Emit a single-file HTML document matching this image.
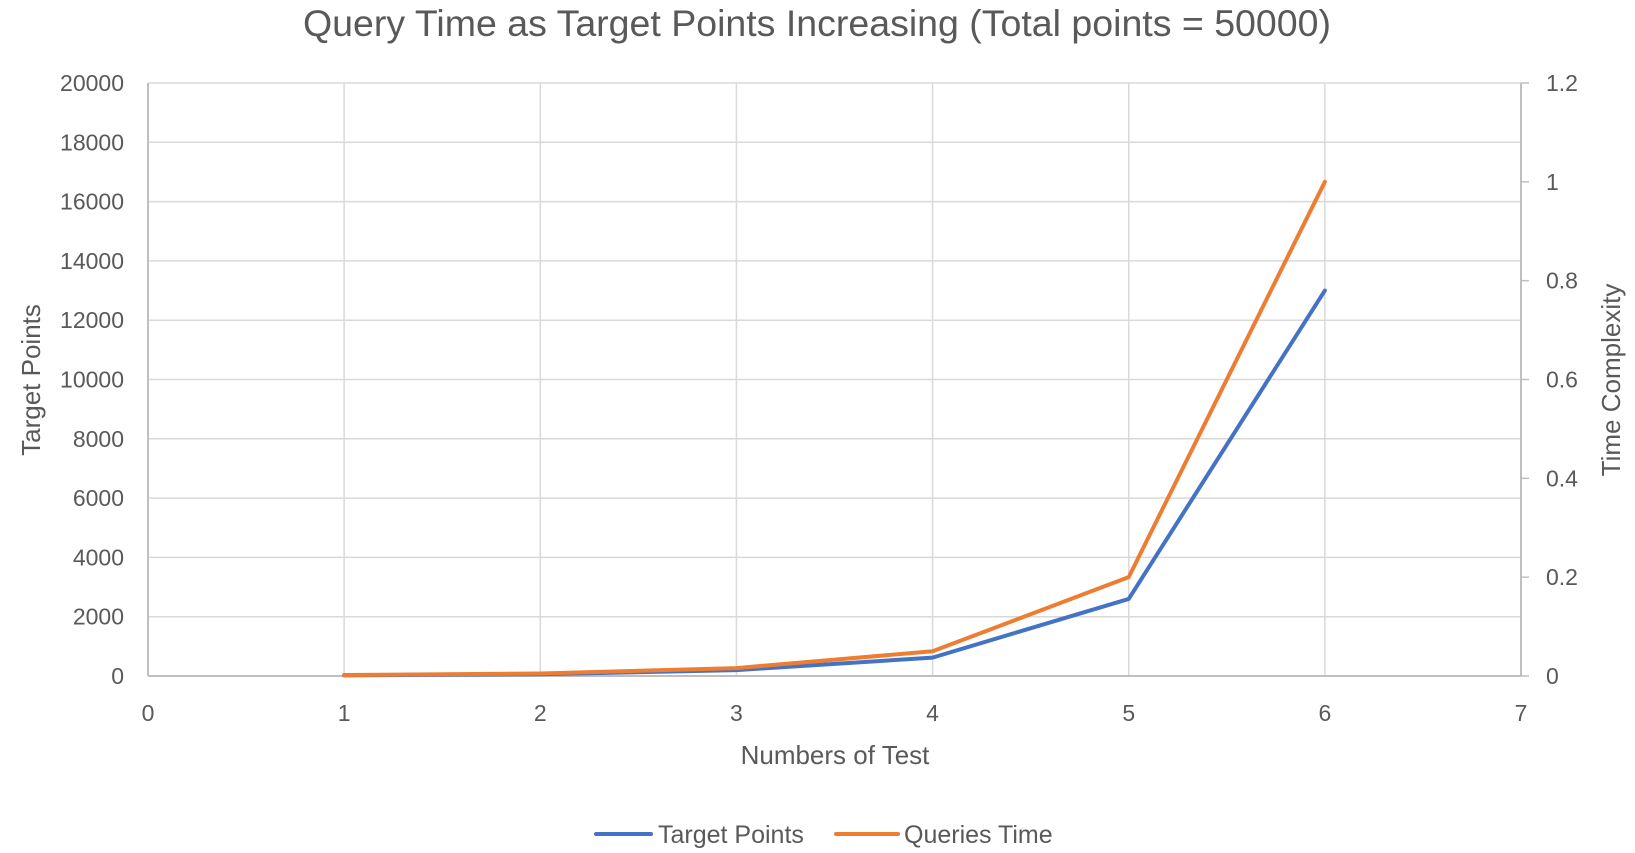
<!DOCTYPE html>
<html><head><meta charset="utf-8"><style>
body{margin:0;background:#fff;}
svg{display:block;font-family:"Liberation Sans",sans-serif;}
</style></head><body>
<svg id="chart" width="1635" height="853">
<text x="817" y="36" text-anchor="middle" font-size="37.5" fill="#595959">Query Time as Target Points Increasing (Total points = 50000)</text>
<g id="grid"></g><g id="axes"></g><g id="series"></g>
<text x="835" y="764" text-anchor="middle" font-size="26" fill="#595959">Numbers of Test</text>
<text transform="translate(40,380) rotate(-90)" text-anchor="middle" font-size="26" fill="#595959">Target Points</text>
<text transform="translate(1620,380) rotate(-90)" text-anchor="middle" font-size="26" fill="#595959">Time Complexity</text>
<g>
<g><line x1="596" y1="834" x2="651" y2="834" stroke="#4472C4" stroke-width="4" stroke-linecap="round"/><text x="658" y="843" font-size="25" fill="#595959">Target Points</text></g>
<g><line x1="836" y1="834" x2="898" y2="834" stroke="#ED7D31" stroke-width="4" stroke-linecap="round"/><text x="904" y="843" font-size="25" fill="#595959">Queries Time</text></g>
</g>
</svg>
<script>
const xs=[1,2,3,4,5,6];
const targetPoints=[20,60,200,620,2600,13000];
const queryTime=[0.002,0.005,0.016,0.05,0.2,1.0];
const xTicks=[0,1,2,3,4,5,6,7];
const yTicks=[0,2000,4000,6000,8000,10000,12000,14000,16000,18000,20000];
const y2Ticks=[0,0.2,0.4,0.6,0.8,1,1.2];
const L=148,R=1521,T=83,B=676;
const X=v=>L+(v-0)/7*(R-L);
const Y=v=>B-v/20000*(B-T);
const Y2=v=>B-v/1.2*(B-T);
const NS='http://www.w3.org/2000/svg';
function mk(p,tag,a,txt){const e=document.createElementNS(NS,tag);for(const k in a)e.setAttribute(k,a[k]);if(txt!==undefined)e.textContent=txt;p.appendChild(e);return e;}
const grid=document.getElementById('grid'),axes=document.getElementById('axes'),ser=document.getElementById('series');
yTicks.forEach(t=>{
 const l=mk(grid,'line',{x1:L,x2:R,y1:Y(t),y2:Y(t),stroke:'#d9d9d9','stroke-width':1.5});
 
 
 const tx=mk(axes,'text',{x:L-24,y:Y(t)+8,'text-anchor':'end','font-size':23,fill:'#595959'},t);
 
 
});
xTicks.forEach(t=>{
 if(t>0&&t<7){const l=mk(grid,'line',{x1:X(t),x2:X(t),y1:T,y2:B,stroke:'#d9d9d9','stroke-width':1.5});
 
 }
 const tx=mk(axes,'text',{x:X(t),y:B+45,'text-anchor':'middle','font-size':23,fill:'#595959'},t);
 
 
});
y2Ticks.forEach(t=>{
 mk(axes,'line',{x1:R,x2:R+8,y1:Y2(t),y2:Y2(t),stroke:'#bfbfbf','stroke-width':1.5});
 const tx=mk(axes,'text',{x:R+25,y:Y2(t)+8,'font-size':23,fill:'#595959'},t);
 
 
});
const xa=mk(axes,'line',{x1:L,x2:R,y1:B,y2:B,stroke:'#bfbfbf','stroke-width':2});


const ya=mk(axes,'line',{x1:L,x2:L,y1:T,y2:B,stroke:'#bfbfbf','stroke-width':2});


const y2a=mk(axes,'line',{x1:R,x2:R,y1:T,y2:B,stroke:'#bfbfbf','stroke-width':2});


const p1=mk(ser,'polyline',{points:xs.map((x,i)=>X(x)+','+Y(targetPoints[i])).join(' '),fill:'none',stroke:'#4472C4','stroke-width':4,'stroke-linejoin':'round','stroke-linecap':'round'});


const p2=mk(ser,'polyline',{points:xs.map((x,i)=>X(x)+','+Y2(queryTime[i])).join(' '),fill:'none',stroke:'#ED7D31','stroke-width':4,'stroke-linejoin':'round','stroke-linecap':'round'});


</script>
</body></html>
